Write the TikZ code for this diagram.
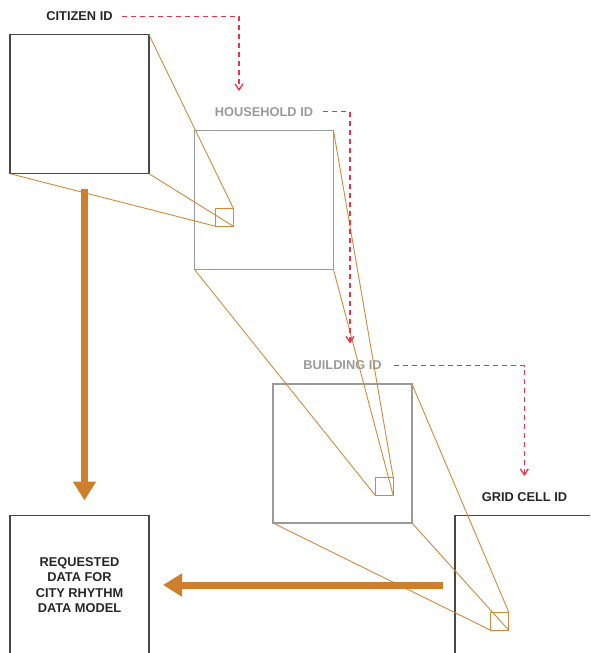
\documentclass[tikz,border=0pt]{standalone}
\usepackage{fontspec}
\setmainfont{Liberation Sans}
\usetikzlibrary{arrows.meta}
\definecolor{orng}{HTML}{CF7F2C}
\definecolor{thinor}{HTML}{D4883A}
\definecolor{dred}{HTML}{E8334A}
\definecolor{gbox}{HTML}{9A9A9A}
\definecolor{dbox}{HTML}{474747}
\definecolor{dtext}{HTML}{262626}
\definecolor{gtext}{HTML}{9A9A9A}
\begin{document}
\begin{tikzpicture}[x=1pt,y=-1pt,
  bigbox/.style={draw, line width=1.2pt, minimum size=139pt, inner sep=0pt, outer sep=0pt},
  smallbox/.style={draw=thinor, line width=1pt, minimum size=18pt, inner sep=0pt, outer sep=0pt},
  zoomline/.style={draw=thinor, line width=0.9pt},
  idlabel/.style={font=\fontsize{12.8pt}{15pt}\selectfont\bfseries, inner sep=0pt},
  idlink/.style={draw=dred, line width=1.3pt, dash pattern=on 5pt off 4pt, -{Straight Barb[width=8pt,length=6pt]}},
  flow/.style={draw=orng, line width=7pt, -{Triangle[width=22pt,length=19pt]}}
]
\clip (0,0) rectangle (590,653);
% boxes
\node[bigbox, draw=dbox] (cit) at (79.5,104.2) {};
\node[bigbox, draw=gbox] (hh) at (264,200) {};
\node[bigbox, draw=gbox] (bld) at (342.5,453.5) {};
\node[bigbox, draw=dbox] (grid) at (524.5,585) {};
\node[bigbox, draw=dbox, align=center, text=dtext,
      font=\fontsize{12.8pt}{15.5pt}\selectfont\bfseries] (req) at (79.5,585) {REQUESTED\\DATA FOR\\CITY RHYTHM\\DATA MODEL};
% small squares
\node[smallbox] (hs) at (224.3,217.2) {};
\node[smallbox] (bs) at (384.2,486.3) {};
\node[smallbox] (gs) at (499.8,621.3) {};
% labels
\node[idlabel, text=dtext] (cidl) at ([yshift=18.5pt]cit.north) {CITIZEN ID};
\node[idlabel, text=gtext] (hhl) at ([yshift=18.8pt]hh.north) {HOUSEHOLD ID};
\node[idlabel, text=gtext] (bldl) at ([yshift=18.5pt]bld.north) {BUILDING ID};
\node[idlabel, text=dtext] (gridl) at ([yshift=18.7pt]grid.north) {GRID CELL ID};
% zoom lines
\draw[zoomline] (cit.north east) -- (hs.north east);
\draw[zoomline] (cit.south west) -- (hs.south west);
\draw[zoomline] (cit.south east) -- (hs.south east);
\draw[zoomline] (hh.north east) -- (bs.north east);
\draw[zoomline] (hh.south west) -- (bs.south west);
\draw[zoomline] (hh.south east) -- (bs.south east);
\draw[zoomline] (bld.north east) -- (gs.north east);
\draw[zoomline] (bld.south west) -- (gs.south west);
\draw[zoomline] (bld.south east) -- (gs.south east);
% id links
\coordinate (t1) at (239,91);
\coordinate (t2) at (350,343.5);
\coordinate (t3) at (524.3,476);
\draw[idlink] ([xshift=9pt]cidl.east) -| (t1);
\draw[idlink] ([xshift=10pt]hhl.east) -| (t2);
\draw[idlink] ([xshift=12pt]bldl.east) -| (t3);
% flows
\draw[flow] ([xshift=5pt,yshift=-15pt]cit.south) -- ([xshift=5pt,yshift=15pt]req.north);
\draw[flow] ([xshift=-12pt]grid.west) -- ([xshift=14pt]req.east);
\end{tikzpicture}
\end{document}
